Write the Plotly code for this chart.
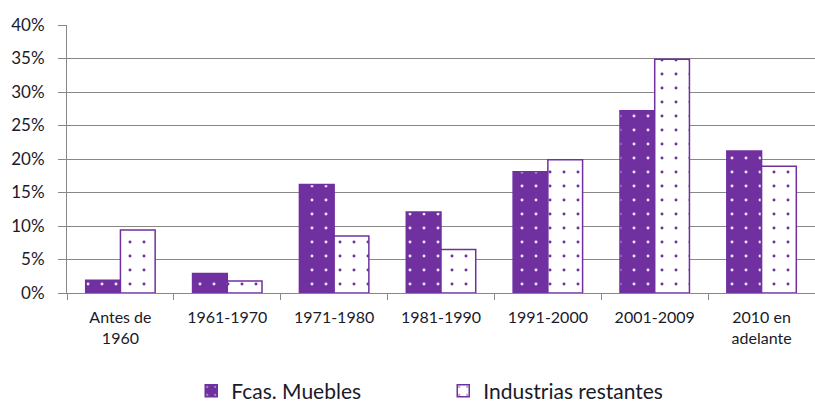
import plotly.graph_objects as go

categories = ["Antes de<br>1960", "1961-1970", "1971-1980", "1981-1990", "1991-2000", "2001-2009", "2010 en<br>adelante"]
fcas_muebles = [1.9, 2.9, 16.2, 12.1, 18.1, 27.2, 21.2]
industrias_restantes = [9.4, 1.8, 8.5, 6.5, 19.9, 34.9, 18.9]
y_ticks = [0, 5, 10, 15, 20, 25, 30, 35, 40]
y_ticktext = [f"{v}%" for v in y_ticks]

PURPLE = "#7030A0"
FONT = "Lato"

fig = go.Figure()
fig.add_trace(go.Bar(
    name="Fcas. Muebles", x=categories, y=fcas_muebles,
    marker=dict(color=PURPLE, line=dict(color=PURPLE, width=1.5),
                pattern=dict(shape=".", fgcolor="#ede4f5", bgcolor=PURPLE,
                             size=14, solidity=0.035, fillmode="replace")),
))
fig.add_trace(go.Bar(
    name="Industrias restantes", x=categories, y=industrias_restantes,
    marker=dict(color="white", line=dict(color=PURPLE, width=1.5),
                pattern=dict(shape=".", fgcolor=PURPLE, bgcolor="white",
                             size=14, solidity=0.035, fillmode="replace")),
))

fig.update_layout(
    width=815, height=404,
    margin=dict(l=67, r=0, t=25, b=111, autoexpand=False),
    paper_bgcolor="white", plot_bgcolor="white",
    barmode="group", bargap=0.35, bargroupgap=0,
    font=dict(family=FONT, size=16, color="#1a1a2a"),
    showlegend=True,
    legend=dict(orientation="h", x=0.503, xanchor="center", y=-0.366, yanchor="middle",
                font=dict(size=21, family=FONT), itemwidth=30, entrywidth=207,
                tracegroupgap=0),
    xaxis=dict(showline=True, linecolor="#888888", linewidth=1, automargin=False,
               ticks="outside", tickson="boundaries", ticklen=6, tickcolor="#888888",
               showgrid=False, tickfont=dict(size=16), ticklabelstandoff=10),
    yaxis=dict(range=[0, 40], tickvals=y_ticks, ticktext=y_ticktext, automargin=False,
               showline=True, linecolor="#888888", linewidth=1,
               ticks="outside", ticklen=8, tickcolor="#888888",
               showgrid=True, gridcolor="#888888", gridwidth=1,
               zeroline=False, tickfont=dict(size=17), ticklabelstandoff=10),
)

fig.write_html("out.html", config={"displayModeBar": False},
               post_script="document.body.style.margin='0';document.body.style.overflow='hidden';")
